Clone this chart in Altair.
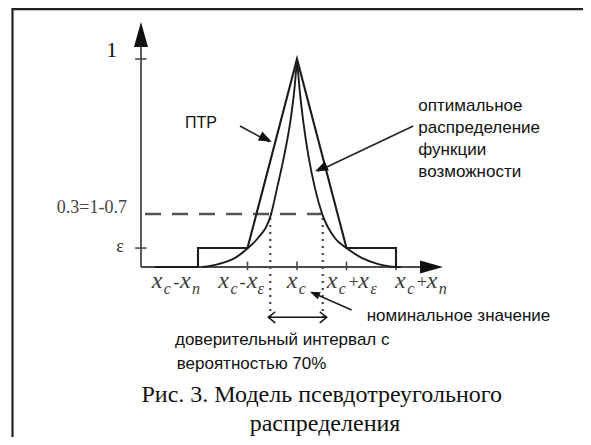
import altair as alt
import pandas as pd

# ---------------- data (x in units of x_eps around x_c, y = possibility) ----------------
ptr_u = [-2.87, -2.0, -2.0, -1.0, 0.0, 1.0, 2.0, 2.0, 2.1]
ptr_mu = [0.0, 0.0, 0.091, 0.091, 1.0, 0.091, 0.091, 0.0, 0.0]

opt_left_u = [-1.92, -1.59, -1.25, -0.99, -0.794, -0.525, -0.404, -0.257, -0.135, -0.05, 0.0]
opt_left_mu = [0.0, 0.014, 0.044, 0.091, 0.138, 0.253, 0.378, 0.538, 0.699, 0.86, 1.0]
opt_right_u = [0.0, 0.05, 0.127, 0.228, 0.364, 0.511, 0.768, 1.0, 1.307, 1.643, 1.98]
opt_right_mu = [1.0, 0.86, 0.699, 0.538, 0.378, 0.253, 0.138, 0.091, 0.044, 0.014, 0.0]

eps_level = 0.091
conf_level = 0.255
conf_bounds = [-0.54, 0.52]
x_ticks = [-1.0, 0.0, 1.0, 2.0]
y_ticks = [eps_level, 1.0]

x_label_pieces = [
    # (text, kind) kind: 0 main, 1 subscript, 2 operator
    [("x", 0), ("c", 1), ("-", 2), ("x", 0), ("n", 1)],
    [("x", 0), ("c", 1), ("-", 2), ("x", 0), ("ε", 1)],
    [("x", 0), ("c", 1)],
    [("x", 0), ("c", 1), ("+", 2), ("x", 0), ("ε", 1)],
    [("x", 0), ("c", 1), ("+", 2), ("x", 0), ("n", 1)],
]
x_label_left = [
    [-2.935, -2.69, -2.50, -2.364, -2.12],
    [-1.590, -1.345, -1.16, -1.016, -0.80],
    [-0.208, 0.037],
    [0.600, 0.845, 1.02, 1.238, 1.485],
    [1.980, 2.225, 2.40, 2.620, 2.865],
]

caption = ["Рис. 3. Модель псевдотреугольного", "распределения"]
opt_lines = ["оптимальное", "распределение", "функции", "возможности"]
conf_lines = ["доверительный интервал с", "вероятностью 70%"]

# ---------------- scales ----------------
W, H = 575, 429
xs = alt.Scale(domain=[-5.8384, 5.7778], zero=False, nice=False)
ys = alt.Scale(domain=[-0.8173, 1.2452], zero=False, nice=False)


def XQ(f="u"):
    return alt.X(f"{f}:Q", scale=xs, axis=None)


def YQ(f="m"):
    return alt.Y(f"{f}:Q", scale=ys, axis=None)


CURVE = "#1c1c1c"
AXIS = "#4a4a4a"

# ---------------- frame ----------------
frame = alt.Chart(pd.DataFrame({"a": [0]})).mark_rule(color="#222", strokeWidth=2.2)
frame_left = frame.encode(x=alt.value(4.5), y=alt.value(0), y2=alt.value(H))
frame_top = frame.encode(x=alt.value(4.5), x2=alt.value(W), y=alt.value(1.2))

# ---------------- axes ----------------
axes_df = pd.DataFrame({
    "u": [-3.152, -3.152], "m": [0.0, 0.0],
    "u2": [-3.152, 2.6], "m2": [1.12, 0.0],
})
axes = alt.Chart(axes_df).mark_rule(color=AXIS, strokeWidth=1.8).encode(
    x=XQ(), y=YQ(), x2="u2:Q", y2="m2:Q")

ytick_df = pd.DataFrame({"m": y_ticks, "u": [-3.27] * 2, "u2": [-3.04] * 2})
yticks = alt.Chart(ytick_df).mark_rule(color=AXIS, strokeWidth=1.6).encode(
    x=XQ(), x2="u2:Q", y=YQ())

xtick_df = pd.DataFrame({"u": x_ticks, "m": [-0.016] * 4, "m2": [0.026] * 4})
xticks = alt.Chart(xtick_df).mark_rule(color=AXIS, strokeWidth=1.6).encode(
    x=XQ(), y=YQ(), y2="m2:Q")

yarrow = alt.Chart(pd.DataFrame({"u": [-3.152], "m": [1.118]})).mark_point(
    shape="M0,-1L0.56,1L-0.56,1Z", size=625, filled=True, color="#111", opacity=1,
    strokeWidth=0).encode(x=XQ(), y=YQ())
xarrow = alt.Chart(pd.DataFrame({"u": [2.717], "m": [0.0]})).mark_point(
    shape="M1,0L-1,-0.57L-1,0.57Z", size=529, filled=True, color="#111", opacity=1,
    strokeWidth=0).encode(x=XQ(), y=YQ())

# ---------------- dashed / dotted guides ----------------
dash = alt.Chart(pd.DataFrame({"u": [-3.07], "u2": [0.49], "m": [conf_level]})).mark_rule(
    color="#555", strokeWidth=2.4, strokeDash=[16, 11]).encode(x=XQ(), x2="u2:Q", y=YQ())

dots = alt.Chart(pd.DataFrame({"u": conf_bounds, "m": [0.235, 0.235], "m2": [-0.24, -0.24]})).mark_rule(
    color="#444", strokeWidth=2.2, strokeDash=[2, 5]).encode(x=XQ(), y=YQ(), y2="m2:Q")

dbl = alt.Chart(pd.DataFrame({"u": [-0.58], "u2": [0.6], "m": [-0.242]})).mark_rule(
    color="#111", strokeWidth=1.5).encode(x=XQ(), x2="u2:Q", y=YQ())
chev_l = alt.Chart(pd.DataFrame({"u": [-0.58], "m": [-0.242]})).mark_point(
    shape="M1,-0.8L0,0L1,0.8", size=196, filled=False, color="#111", opacity=1,
    strokeWidth=1.5).encode(x=XQ(), y=YQ())
chev_r = alt.Chart(pd.DataFrame({"u": [0.6], "m": [-0.242]})).mark_point(
    shape="M-1,-0.8L0,0L-1,0.8", size=196, filled=False, color="#111", opacity=1,
    strokeWidth=1.5).encode(x=XQ(), y=YQ())

# ---------------- curves ----------------
ptr_df = pd.DataFrame({"u": ptr_u, "m": ptr_mu, "i": range(len(ptr_u))})
ptr = alt.Chart(ptr_df).mark_line(color=CURVE, strokeWidth=2.1).encode(
    x=XQ(), y=YQ(), order="i:Q")

opt_df = pd.DataFrame({
    "u": opt_left_u + opt_right_u,
    "m": opt_left_mu + opt_right_mu,
    "side": ["L"] * len(opt_left_u) + ["R"] * len(opt_right_u),
})
opt = alt.Chart(opt_df).mark_line(color=CURVE, strokeWidth=1.9, interpolate="monotone").encode(
    x=XQ(), y=YQ(), detail="side:N")

# ---------------- pointer arrows ----------------
shaft_df = pd.DataFrame({
    "u": [-1.152, 2.349, 1.105], "m": [0.678, 0.678, -0.207],
    "u2": [-0.56, 0.42, 0.30], "m2": [0.602, 0.46, -0.123],
})
shafts = alt.Chart(shaft_df).mark_rule(color="#222", strokeWidth=1.6).encode(
    x=XQ(), y=YQ(), x2="u2:Q", y2="m2:Q")


def head(u, m, ang, size):
    return alt.Chart(pd.DataFrame({"u": [u], "m": [m]})).mark_point(
        shape="M0,0L-1,-0.38L-1,0.38Z", size=size, angle=ang, filled=True,
        color="#111", opacity=1, strokeWidth=0).encode(x=XQ(), y=YQ())


heads = [head(-0.511, 0.602, 26.3, 676), head(0.364, 0.46, 155.3, 676),
         head(0.263, -0.119, 203.7, 400)]

# ---------------- x tick labels (with subscripts) ----------------
rows = []
for pieces, lefts in zip(x_label_pieces, x_label_left):
    for (t, kind), u in zip(pieces, lefts):
        m = -0.131 if kind == 1 else -0.099
        s = {0: 24, 1: 16, 2: 18}[kind]
        rows.append({"u": u, "m": m, "t": t, "s": s})
xl_df = pd.DataFrame(rows)
xlabels = alt.Chart(xl_df).mark_text(
    font="Liberation Serif", fontStyle="italic", align="left", baseline="alphabetic",
    color="#3a3a3a").encode(x=XQ(), y=YQ(), text="t:N", size=alt.Size("s:Q", scale=None))


# ---------------- y labels ----------------
def txt(df, font, align, size, color="#111", style="normal"):
    return alt.Chart(df).mark_text(font=font, align=align, baseline="alphabetic",
                                   fontSize=size, color=color, fontStyle=style).encode(
        x=XQ(), y=YQ(), text="t:N")


lab_one = txt(pd.DataFrame({"u": [-3.743], "m": [1.01], "t": ["1"]}), "Liberation Serif", "center", 22)
lab_conf = txt(pd.DataFrame({"u": [-3.434], "m": [0.262], "t": ["0.3=1-0.7"]}),
               "Liberation Serif", "right", 18, color="#444")
lab_eps = txt(pd.DataFrame({"u": [-3.576], "m": [0.072], "t": ["ε"]}),
              "Liberation Serif", "center", 18, color="#333")

# ---------------- annotations ----------------
lab_ptr = txt(pd.DataFrame({"u": [-2.263], "m": [0.667], "t": ["ПТР"]}), "Liberation Sans", "left", 16)
lab_opt = txt(pd.DataFrame({"u": [2.451] * 4, "m": [0.748, 0.645, 0.538, 0.434], "t": opt_lines}),
              "Liberation Sans", "left", 17)
lab_nom = txt(pd.DataFrame({"u": [1.408], "m": [-0.262], "t": ["номинальное значение"]}),
              "Liberation Sans", "left", 17)
lab_ci = txt(pd.DataFrame({"u": [-2.465, -2.43], "m": [-0.375, -0.49], "t": conf_lines}),
             "Liberation Sans", "left", 17)
lab_cap = txt(pd.DataFrame({"u": [0.5, 0.566], "m": [-0.649, -0.788], "t": caption}),
              "Liberation Serif", "center", 24)

chart = alt.layer(
    frame_left, frame_top, dash, dots, axes, yticks, xticks, yarrow, xarrow,
    opt, ptr, shafts, *heads, dbl, chev_l, chev_r,
    xlabels, lab_one, lab_conf, lab_eps, lab_ptr, lab_opt, lab_nom, lab_ci, lab_cap,
).properties(
    width=W, height=H, padding=0,
    autosize=alt.AutoSizeParams(type="none"),
).configure_view(stroke=None)

chart.save("out.html", embed_options={"renderer": "svg", "actions": False})
